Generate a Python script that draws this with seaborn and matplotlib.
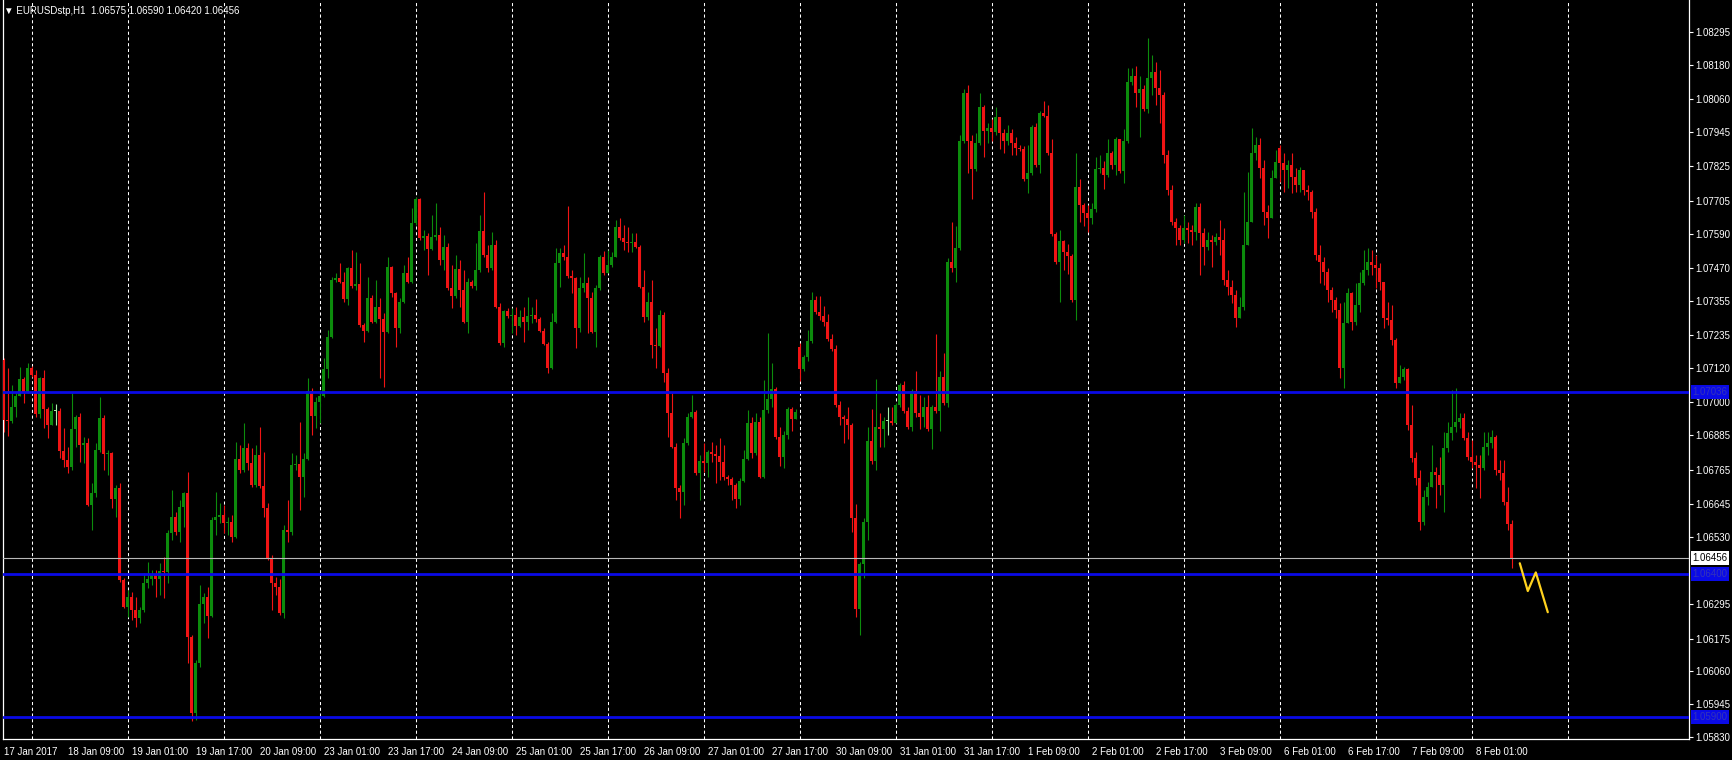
import numpy as np
import pandas as pd
import matplotlib
matplotlib.use("Agg")
import matplotlib.pyplot as plt
import seaborn as sns

# ---------------- data ----------------
title_text = "\u25BC EURUSDstp,H1  1.06575 1.06590 1.06420 1.06456"

closes = [
1.06939,1.06935,1.06984,1.07022,1.07082,1.07036,1.07120,1.07096,1.06960,1.07085,
1.06977,1.06921,1.06970,1.06970,1.06830,1.06799,1.06774,1.06907,1.06949,1.06851,
1.06858,1.06642,1.06684,1.06834,1.06946,1.06820,1.06823,1.06663,1.06701,1.06380,
1.06285,1.06320,1.06275,1.06247,1.06275,1.06369,1.06383,1.06397,1.06383,1.06411,
1.06407,1.06544,1.06600,1.06547,1.06635,1.06684,1.06180,1.05915,1.06090,1.06296,
1.06320,1.06254,1.06589,1.06600,1.06607,1.06579,1.06582,1.06530,1.06802,1.06764,
1.06841,1.06788,1.06711,1.06816,1.06708,1.06631,1.06456,1.06369,1.06355,1.06264,
1.06554,1.06547,1.06781,1.06785,1.06739,1.06802,1.07040,1.06953,1.07001,1.07022,
1.07117,1.07229,1.07428,1.07435,1.07421,1.07361,1.07470,1.07407,1.07414,1.07271,
1.07250,1.07365,1.07281,1.07333,1.07291,1.07246,1.07473,1.07382,1.07260,1.07351,
1.07452,1.07421,1.07627,1.07711,1.07574,1.07581,1.07536,1.07578,1.07585,1.07498,
1.07543,1.07400,1.07372,1.07466,1.07393,1.07281,1.07421,1.07407,1.07463,1.07599,
1.07515,1.07470,1.07550,1.07333,1.07208,1.07319,1.07302,1.07305,1.07267,1.07298,
1.07281,1.07302,1.07305,1.07291,1.07250,1.07204,1.07120,1.07281,1.07487,1.07522,
1.07508,1.07442,1.07435,1.07260,1.07400,1.07417,1.07365,1.07246,1.07400,1.07508,
1.07452,1.07480,1.07508,1.07613,1.07574,1.07560,1.07557,1.07560,1.07543,1.07403,
1.07298,1.07351,1.07201,1.07197,1.07305,1.07103,1.06963,1.06844,1.06701,1.06687,
1.06858,1.06949,1.06967,1.06753,1.06795,1.06788,1.06827,1.06820,1.06813,1.06792,
1.06739,1.06732,1.06711,1.06663,1.06725,1.06802,1.06928,1.06823,1.06931,1.06739,
1.06974,1.07012,1.07047,1.06879,1.06809,1.06886,1.06977,1.06942,1.06967,1.07117,
1.07159,1.07215,1.07358,1.07316,1.07302,1.07281,1.07222,1.07187,1.06991,1.06949,
1.06942,1.06921,1.06596,1.06278,1.06435,1.06582,1.06865,1.06795,1.06914,1.06907,
1.06935,1.06935,1.06928,1.06991,1.07061,1.06970,1.06914,1.07040,1.06963,1.06949,
1.06984,1.06907,1.06984,1.06970,1.07089,1.06998,1.07491,1.07470,1.07540,1.07913,
1.08081,1.07913,1.07815,1.07906,1.08032,1.07948,1.07959,1.07945,1.07997,1.07941,
1.07913,1.07941,1.07906,1.07889,1.07885,1.07781,1.07801,1.07962,1.07830,1.08011,
1.08001,1.07871,1.07588,1.07491,1.07564,1.07526,1.07512,1.07358,1.07753,1.07690,
1.07662,1.07644,1.07676,1.07815,1.07819,1.07795,1.07871,1.07830,1.07920,1.07808,
1.07913,1.08120,1.08141,1.08081,1.08095,1.08025,1.08134,1.08154,1.08099,1.08074,
1.07864,1.07742,1.07630,1.07609,1.07567,1.07609,1.07602,1.07595,1.07683,1.07592,
1.07543,1.07567,1.07560,1.07578,1.07567,1.07428,1.07403,1.07375,1.07295,1.07333,
1.07550,1.07630,1.07871,1.07899,1.07819,1.07665,1.07644,1.07784,1.07840,1.07837,
1.07812,1.07830,1.07788,1.07760,1.07812,1.07742,1.07735,1.07665,1.07515,1.07491,
1.07456,1.07393,1.07358,1.07323,1.07120,1.07277,1.07382,1.07281,1.07340,1.07417,
1.07463,1.07491,1.07480,1.07470,1.07421,1.07295,1.07288,1.07218,1.07068,1.07089,
1.07117,1.06921,1.06806,1.06736,1.06582,1.06670,1.06704,1.06757,1.06746,1.06711,
1.06841,1.06893,1.06914,1.06931,1.06946,1.06876,1.06809,1.06792,1.06781,1.06771,
1.06844,1.06858,1.06879,1.06764,1.06753,1.06652,1.06575,1.06456,
]

highs = [
1.07155,1.07120,1.07061,1.07033,1.07124,1.07089,1.07138,1.07127,1.07113,1.07089,
1.07113,1.06984,1.06998,1.06994,1.06980,1.06911,1.06844,1.07033,1.06956,1.06963,
1.06879,1.06876,1.06718,1.06858,1.07019,1.06956,1.06834,1.06827,1.06711,1.06718,
1.06387,1.06345,1.06338,1.06320,1.06285,1.06404,1.06442,1.06414,1.06414,1.06439,
1.06460,1.06554,1.06694,1.06617,1.06659,1.06687,1.06757,1.06187,1.06100,1.06362,
1.06334,1.06355,1.06600,1.06687,1.06649,1.06642,1.06600,1.06607,1.06862,1.06851,
1.06928,1.06858,1.06841,1.06851,1.06914,1.06827,1.06649,1.06467,1.06390,1.06383,
1.06572,1.06659,1.06823,1.06816,1.06931,1.06823,1.07085,1.07050,1.07019,1.07043,
1.07155,1.07253,1.07438,1.07452,1.07487,1.07456,1.07473,1.07533,1.07526,1.07487,
1.07277,1.07438,1.07375,1.07428,1.07365,1.07312,1.07508,1.07477,1.07386,1.07365,
1.07480,1.07508,1.07679,1.07718,1.07714,1.07602,1.07592,1.07655,1.07697,1.07613,
1.07585,1.07557,1.07480,1.07515,1.07498,1.07463,1.07435,1.07428,1.07557,1.07655,
1.07735,1.07550,1.07595,1.07567,1.07347,1.07323,1.07330,1.07330,1.07333,1.07323,
1.07333,1.07368,1.07333,1.07361,1.07298,1.07260,1.07211,1.07312,1.07540,1.07540,
1.07550,1.07686,1.07463,1.07438,1.07438,1.07522,1.07438,1.07386,1.07410,1.07515,
1.07529,1.07533,1.07526,1.07637,1.07644,1.07620,1.07613,1.07592,1.07592,1.07550,
1.07463,1.07386,1.07428,1.07260,1.07323,1.07316,1.07120,1.07033,1.06858,1.06711,
1.06876,1.06963,1.07026,1.06974,1.06816,1.06858,1.06834,1.06862,1.06851,1.06876,
1.06851,1.06746,1.06739,1.06718,1.06736,1.06834,1.06974,1.06949,1.06963,1.06949,
1.07078,1.07243,1.07138,1.07054,1.06914,1.06900,1.06984,1.06984,1.06977,1.07208,
1.07166,1.07253,1.07386,1.07372,1.07372,1.07337,1.07309,1.07239,1.07201,1.07005,
1.06956,1.06984,1.06928,1.06645,1.06442,1.06596,1.06914,1.06977,1.07082,1.06963,
1.06949,1.06984,1.06984,1.06998,1.07068,1.07075,1.06984,1.07047,1.07110,1.07026,
1.07019,1.07026,1.06991,1.07239,1.07110,1.07173,1.07505,1.07630,1.07616,1.07934,
1.08095,1.08109,1.07934,1.07941,1.08081,1.08039,1.07976,1.07990,1.08032,1.07997,
1.07955,1.07969,1.07955,1.07927,1.07899,1.07896,1.07899,1.07969,1.07976,1.08018,
1.08053,1.08039,1.07920,1.07595,1.07602,1.07567,1.07554,1.07519,1.07871,1.07781,
1.07697,1.07690,1.07697,1.07857,1.07864,1.07844,1.07920,1.07878,1.07927,1.07920,
1.07955,1.08168,1.08168,1.08175,1.08141,1.08109,1.08273,1.08214,1.08189,1.08161,
1.08085,1.07882,1.07760,1.07644,1.07620,1.07655,1.07630,1.07620,1.07697,1.07697,
1.07609,1.07595,1.07585,1.07592,1.07637,1.07609,1.07463,1.07428,1.07393,1.07368,
1.07735,1.07805,1.07959,1.07927,1.07924,1.07847,1.07690,1.07812,1.07882,1.07899,
1.07871,1.07847,1.07871,1.07819,1.07823,1.07812,1.07760,1.07742,1.07679,1.07550,
1.07508,1.07470,1.07403,1.07368,1.07347,1.07351,1.07400,1.07386,1.07417,1.07456,
1.07533,1.07540,1.07533,1.07515,1.07487,1.07421,1.07351,1.07340,1.07225,1.07131,
1.07124,1.07120,1.06991,1.06827,1.06764,1.06694,1.06722,1.06851,1.06774,1.06809,
1.06897,1.06931,1.07043,1.07050,1.06963,1.06963,1.06897,1.06869,1.06816,1.06816,
1.06897,1.06897,1.06904,1.06886,1.06799,1.06799,1.06704,1.06590,
]

lows = [
1.06897,1.06883,1.06928,1.06949,1.07022,1.06998,1.07033,1.07089,1.06949,1.06946,
1.06911,1.06876,1.06921,1.06921,1.06806,1.06774,1.06753,1.06764,1.06844,1.06792,
1.06788,1.06638,1.06554,1.06670,1.06827,1.06764,1.06746,1.06631,1.06600,1.06373,
1.06282,1.06250,1.06240,1.06215,1.06229,1.06268,1.06352,1.06362,1.06320,1.06327,
1.06317,1.06369,1.06519,1.06537,1.06512,1.06565,1.06090,1.05887,1.05890,1.06076,
1.06229,1.06177,1.06250,1.06537,1.06579,1.06544,1.06537,1.06512,1.06526,1.06753,
1.06757,1.06764,1.06704,1.06704,1.06701,1.06600,1.06449,1.06275,1.06327,1.06257,
1.06247,1.06512,1.06537,1.06764,1.06624,1.06670,1.06799,1.06886,1.06911,1.06928,
1.07019,1.07085,1.07225,1.07421,1.07417,1.07351,1.07340,1.07400,1.07393,1.07264,
1.07211,1.07246,1.07277,1.07277,1.07085,1.07054,1.07243,1.07368,1.07194,1.07243,
1.07347,1.07417,1.07417,1.07620,1.07567,1.07532,1.07445,1.07532,1.07567,1.07480,
1.07463,1.07393,1.07330,1.07365,1.07333,1.07277,1.07243,1.07400,1.07393,1.07456,
1.07508,1.07456,1.07463,1.07330,1.07201,1.07194,1.07295,1.07243,1.07236,1.07264,
1.07211,1.07253,1.07277,1.07281,1.07246,1.07201,1.07103,1.07117,1.07277,1.07403,
1.07498,1.07435,1.07382,1.07190,1.07246,1.07386,1.07243,1.07243,1.07194,1.07393,
1.07445,1.07452,1.07473,1.07508,1.07567,1.07532,1.07526,1.07526,1.07540,1.07400,
1.07281,1.07288,1.07155,1.07120,1.07194,1.07071,1.06879,1.06841,1.06659,1.06596,
1.06642,1.06851,1.06946,1.06746,1.06659,1.06757,1.06739,1.06792,1.06718,1.06729,
1.06729,1.06711,1.06659,1.06631,1.06642,1.06722,1.06799,1.06806,1.06816,1.06736,
1.06736,1.06963,1.06984,1.06872,1.06778,1.06771,1.06872,1.06900,1.06942,1.07075,
1.07110,1.07145,1.07208,1.07309,1.07288,1.07267,1.07215,1.07180,1.06984,1.06921,
1.06858,1.06872,1.06547,1.06250,1.06187,1.06387,1.06519,1.06785,1.06764,1.06844,
1.06844,1.06886,1.06921,1.06928,1.06984,1.06963,1.06907,1.06900,1.06949,1.06907,
1.06914,1.06900,1.06837,1.06963,1.06900,1.06991,1.06984,1.07456,1.07421,1.07532,
1.07906,1.07801,1.07711,1.07808,1.07899,1.07857,1.07906,1.07913,1.07934,1.07885,
1.07871,1.07899,1.07864,1.07864,1.07878,1.07774,1.07732,1.07795,1.07823,1.07801,
1.07997,1.07864,1.07581,1.07484,1.07351,1.07463,1.07449,1.07351,1.07288,1.07630,
1.07616,1.07595,1.07623,1.07665,1.07801,1.07746,1.07788,1.07815,1.07795,1.07801,
1.07767,1.07906,1.08109,1.08032,1.07927,1.08018,1.08011,1.08074,1.08039,1.07976,
1.07837,1.07725,1.07620,1.07550,1.07550,1.07557,1.07557,1.07550,1.07567,1.07445,
1.07480,1.07532,1.07473,1.07550,1.07515,1.07410,1.07375,1.07347,1.07264,1.07295,
1.07323,1.07557,1.07630,1.07847,1.07784,1.07620,1.07574,1.07644,1.07784,1.07770,
1.07735,1.07750,1.07732,1.07735,1.07735,1.07725,1.07707,1.07644,1.07498,1.07417,
1.07410,1.07351,1.07316,1.07295,1.07085,1.07050,1.07277,1.07253,1.07271,1.07316,
1.07410,1.07445,1.07445,1.07400,1.07393,1.07260,1.07271,1.07201,1.07050,1.07068,
1.07078,1.06904,1.06792,1.06711,1.06554,1.06572,1.06642,1.06711,1.06631,1.06677,
1.06617,1.06827,1.06869,1.06897,1.06911,1.06869,1.06799,1.06771,1.06701,1.06666,
1.06764,1.06816,1.06841,1.06746,1.06729,1.06642,1.06554,1.06420,
]

# opens where the bar does not open at the previous close (first bar, weekend gaps)
gap_opens = {0: 1.07148, 199: 1.07194, 319: 1.07889}

level_lines = [1.07036, 1.06400, 1.05900]
bid_price = 1.06456

y_ticks = [1.08295, 1.08180, 1.08060, 1.07945, 1.07825, 1.07705, 1.07590, 1.07470,
           1.07355, 1.07235, 1.07120, 1.07000, 1.06885, 1.06765, 1.06645, 1.06530,
           1.06295, 1.06175, 1.06060, 1.05945, 1.05830]

x_labels = ["17 Jan 2017", "18 Jan 09:00", "19 Jan 01:00", "19 Jan 17:00", "20 Jan 09:00",
            "23 Jan 01:00", "23 Jan 17:00", "24 Jan 09:00", "25 Jan 01:00", "25 Jan 17:00",
            "26 Jan 09:00", "27 Jan 01:00", "27 Jan 17:00", "30 Jan 09:00", "31 Jan 01:00",
            "31 Jan 17:00", "1 Feb 09:00", "2 Feb 01:00", "2 Feb 17:00", "3 Feb 09:00",
            "6 Feb 01:00", "6 Feb 17:00", "7 Feb 09:00", "8 Feb 01:00"]
x_label_bars = [0, 16, 32, 48, 64, 80, 96, 112, 128, 144, 160, 176, 192, 208, 224, 240,
                256, 272, 288, 304, 320, 336, 352, 368]
day_start_bars = [7, 31, 55, 79, 103, 127, 151, 175, 199, 223, 247, 271, 295, 319, 343, 367, 391]

zigzag_bars = [379, 381, 383, 386]
zigzag_prices = [1.06438, 1.06341, 1.06406, 1.06267]

# ---------------- frame ----------------
n = len(closes)
opens = [gap_opens[i] if i in gap_opens else closes[i - 1] for i in range(n)]
df = pd.DataFrame({"bar": np.arange(n), "open": opens, "high": highs,
                   "low": lows, "close": closes})
df["high"] = df[["high", "open", "close"]].max(axis=1)
df["low"] = df[["low", "open", "close"]].min(axis=1)
df["kind"] = np.where(df.close > df.open, "bull",
                      np.where(df.close < df.open, "bear", "doji"))
palette = {"bull": "#0c8c0c", "bear": "#f01414", "doji": "#a8f0a8"}
df["color"] = df["kind"].map(palette)

sns.set_theme(style="dark")
plt.rcParams["font.family"] = ["Liberation Sans", "DejaVu Sans"]

W, H = 1732, 760
fig = plt.figure(figsize=(W / 100, H / 100), dpi=100, facecolor="black")
left_px, right_px, top_px, bottom_px = 2.5, 1689, 0, 739
ax = fig.add_axes([left_px / W, (H - bottom_px) / H,
                   (right_px - left_px) / W, (bottom_px - top_px) / H])
ax.set_facecolor("black")
ax.grid(False)

# vertical day-separator grid
for b in day_start_bars:
    ax.axvline(b, color="white", lw=0.75, ls=(0, (3, 2.5)), zorder=1)

# wicks
ax.vlines(df["bar"], df["low"], df["high"], colors=df["color"], lw=0.8, zorder=2)
# bodies
body_h = (df["close"] - df["open"]).abs().clip(lower=0.00003)
body_b = df[["open", "close"]].min(axis=1)
ax.bar(df["bar"], body_h, bottom=body_b, width=0.75, color=df["color"],
       linewidth=0, zorder=3)

# horizontal levels
for lv in level_lines:
    ax.axhline(lv, color="#0a0ae6", lw=2.0, zorder=4)
ax.axhline(bid_price, color="#b8b8b8", lw=0.8, zorder=4)

# zigzag forecast
sns.lineplot(x=zigzag_bars, y=zigzag_prices, color="#ffd21e", lw=1.6, ax=ax,
             zorder=5, estimator=None, sort=False)

ax.set_xlim(-0.3, 421.3)
ax.set_ylim(1.05824, 1.08406)

# axes styling
for side in ["left", "bottom", "right"]:
    ax.spines[side].set_visible(True)
    ax.spines[side].set_color("white")
    ax.spines[side].set_linewidth(0.9)
ax.spines["top"].set_visible(False)

ax.yaxis.tick_right()
ax.set_yticks(y_ticks)
ax.set_yticklabels([f"{v:.5f}" for v in y_ticks])
ax.set_xticks(x_label_bars)
ax.set_xticklabels(x_labels)
ax.tick_params(axis="both", colors="white", labelcolor="white", labelsize=7,
               length=3, width=0.8, direction="out")
ax.tick_params(axis="y", pad=1.5, left=False, right=True)
ax.tick_params(axis="x", pad=2.5)
for lab in ax.get_xticklabels():
    lab.set_horizontalalignment("left")
ax.set_xlabel("")
ax.set_ylabel("")

# price tags on the right scale
for lv in level_lines:
    ax.annotate(f"{lv:.5f}", xy=(1, lv), xycoords=("axes fraction", "data"),
                xytext=(2.5, 0), textcoords="offset points", ha="left", va="center",
                fontsize=7, color="#3434b8",
                bbox=dict(boxstyle="square,pad=0.18", fc="#0a0ae6", ec="none"),
                zorder=6, annotation_clip=False)
ax.annotate(f"{bid_price:.5f}", xy=(1, bid_price), xycoords=("axes fraction", "data"),
            xytext=(2.5, 0), textcoords="offset points", ha="left", va="center",
            fontsize=7, color="black",
            bbox=dict(boxstyle="square,pad=0.18", fc="white", ec="none"),
            zorder=6, annotation_clip=False)

fig.text(4 / W, 1 - 10.5 / H, title_text, color="white", fontsize=7,
         ha="left", va="center", family=["DejaVu Sans", "Liberation Sans"] if False else ["Liberation Sans", "DejaVu Sans"])

fig.savefig("out.png", dpi=100, facecolor="black")
